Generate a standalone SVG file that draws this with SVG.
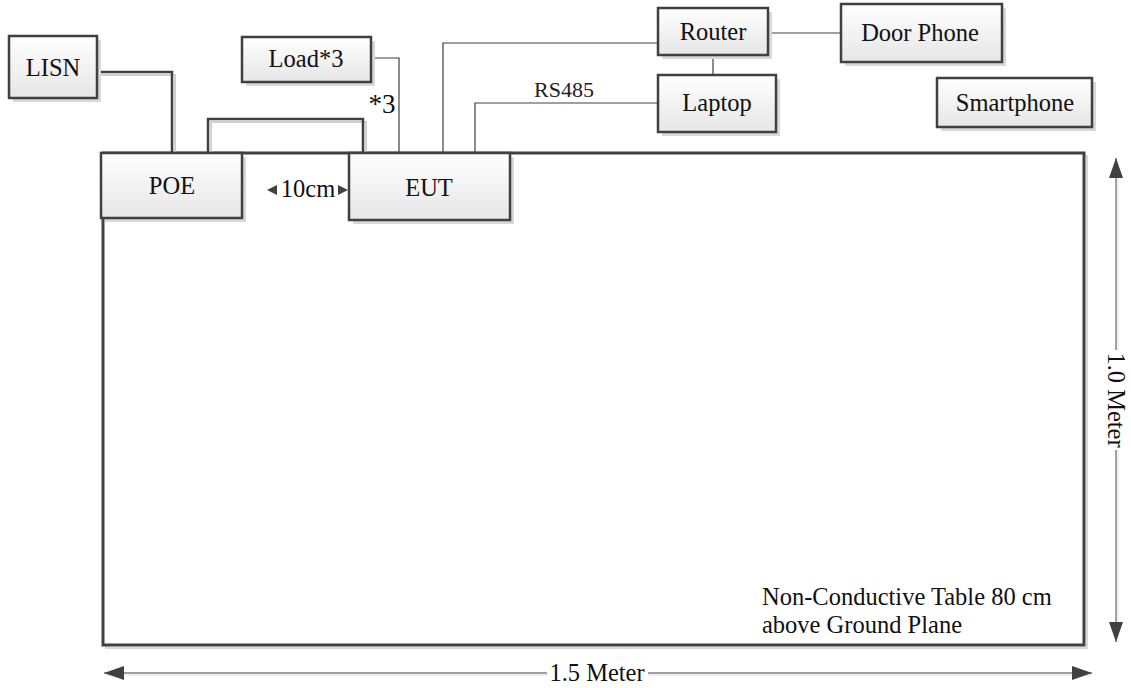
<svg xmlns="http://www.w3.org/2000/svg" width="1131" height="688" viewBox="0 0 1131 688">
<defs>
<linearGradient id="g" x1="0" y1="0" x2="0" y2="1">
<stop offset="0" stop-color="#ffffff"/>
<stop offset="1" stop-color="#e6e6e6"/>
</linearGradient>
<marker id="ah" viewBox="0 0 20 14" refX="20" refY="7" markerWidth="20" markerHeight="14" markerUnits="userSpaceOnUse" orient="auto-start-reverse">
<path d="M0,0 L20,7 L0,14 Z" fill="#404040"/>
</marker>
</defs>
<style>
.box{fill:url(#g);stroke:#404040;stroke-width:2.5}
.sh{fill:#d9d9d9;stroke:none}
.t{font-family:"Liberation Serif","Times New Roman",serif;font-size:24.5px;fill:#111;text-anchor:middle}
.tl{font-family:"Liberation Serif","Times New Roman",serif;font-size:24.5px;fill:#111}
.thick{fill:none;stroke:#404040;stroke-width:2.5}
.thicksh{fill:none;stroke:#d0d0d0;stroke-width:2}
.thin{fill:none;stroke:#404040;stroke-width:1.2}
</style>
<g id="table">
<rect x="106" y="156" width="981" height="492" fill="none" stroke="#d8d8d8" stroke-width="2"/>
<rect x="103" y="153" width="981" height="492" fill="#fff" stroke="#404040" stroke-width="3"/>
<text class="tl" x="762" y="605">Non-Conductive Table 80 cm</text>
<text class="tl" x="762" y="633">above Ground Plane</text>
</g>
<g id="connectors">
<path class="thicksh" d="M99,75 H175 V153"/>
<path class="thicksh" d="M211,153 V122 H366 V153"/>
<path class="thick" d="M97,72 H172 V153"/>
<path class="thick" d="M208,153 V119 H363 V153"/>
<path class="thin" d="M371,58 H399 V153"/>
<path class="thin" d="M658,43 H443 V153"/>
<path class="thin" d="M658,103 H475 V153"/>
<path class="thin" d="M713,55 V75"/>
<path class="thin" d="M768,33 H841"/>
<text x="564" y="97" style="font-family:'Liberation Serif',serif;font-size:22px;fill:#222;text-anchor:middle">RS485</text>
<text x="382" y="113" style="font-family:'Liberation Serif',serif;font-size:27px;fill:#111;text-anchor:middle">*3</text>
<polygon points="267,190 277,185 277,195" fill="#404040"/>
<polygon points="348,190 338,185 338,195" fill="#404040"/>
<text class="t" x="308" y="197">10cm</text>
</g>
<g id="dimensions">
<line x1="1118" y1="160" x2="1118" y2="642" stroke="#e0e0e0" stroke-width="1"/>
<line x1="1116" y1="158" x2="1116" y2="642" stroke="#a0a0a0" stroke-width="2" marker-start="url(#ah)" marker-end="url(#ah)"/>
<rect x="1104" y="350" width="22" height="100" fill="#fff"/>
<text class="t" transform="translate(1108,400) rotate(90)" x="0" y="0">1.0 Meter</text>
<line x1="106" y1="675" x2="1092" y2="675" stroke="#e0e0e0" stroke-width="1"/>
<line x1="104" y1="673" x2="1092" y2="673" stroke="#404040" stroke-width="1.2" marker-start="url(#ah)" marker-end="url(#ah)"/>
<rect x="547" y="660" width="101" height="26" fill="#fff"/>
<text class="t" x="597" y="681">1.5 Meter</text>
</g>
<g id="LISN">
<rect class="sh" x="13" y="40" width="88" height="62"/>
<rect class="box" x="9" y="36" width="88" height="62"/>
<text class="t" x="53" y="76">LISN</text>
</g>
<g id="POE">
<rect class="sh" x="105" y="157" width="141" height="65"/>
<rect class="box" x="101" y="153" width="141" height="65"/>
<text class="t" x="172" y="194">POE</text>
</g>
<g id="EUT">
<rect class="sh" x="353" y="157" width="161" height="67"/>
<rect class="box" x="349" y="153" width="161" height="67"/>
<text class="t" x="429" y="196">EUT</text>
</g>
<g id="Load">
<rect class="sh" x="246" y="41" width="129" height="45"/>
<rect class="box" x="242" y="37" width="129" height="45"/>
<text class="t" x="306" y="67">Load*3</text>
</g>
<g id="Router">
<rect class="sh" x="662" y="12" width="110" height="47"/>
<rect class="box" x="658" y="8" width="110" height="47"/>
<text class="t" x="713" y="40">Router</text>
</g>
<g id="Laptop">
<rect class="sh" x="662" y="79" width="118" height="57"/>
<rect class="box" x="658" y="75" width="118" height="57"/>
<text class="t" x="717" y="111">Laptop</text>
</g>
<g id="DoorPhone">
<rect class="sh" x="845" y="8" width="161" height="58"/>
<rect class="box" x="841" y="4" width="161" height="58"/>
<text class="t" x="920" y="41">Door Phone</text>
</g>
<g id="Smartphone">
<rect class="sh" x="941" y="82" width="155" height="49"/>
<rect class="box" x="937" y="78" width="155" height="49"/>
<text class="t" x="1015" y="111">Smartphone</text>
</g>
</svg>
